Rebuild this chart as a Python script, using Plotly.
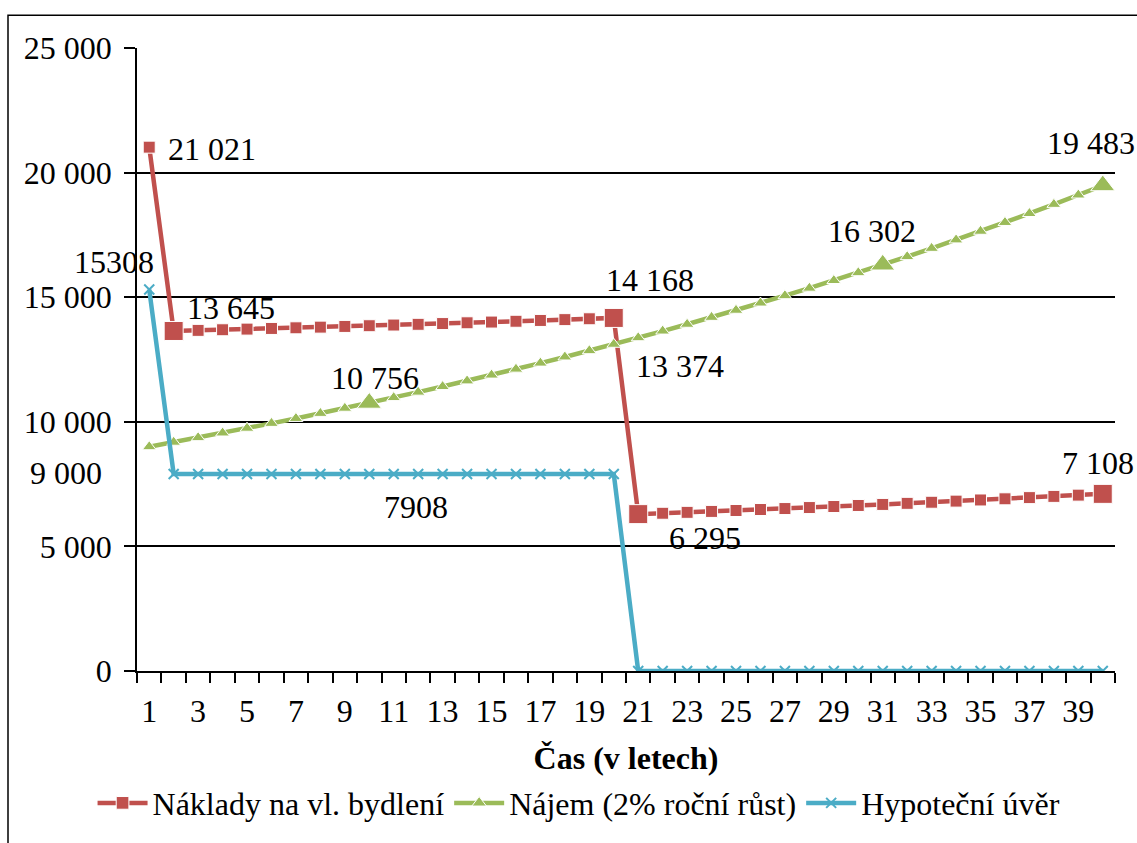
import plotly.graph_objects as go

years = list(range(1, 41))

naklady = [21021, 13645, 13669, 13694, 13720, 13746, 13772, 13799, 13827, 13855,
           13883, 13912, 13942, 13973, 14003, 14035, 14067, 14100, 14134, 14168,
           6295, 6330, 6367, 6404, 6441, 6480, 6519, 6559, 6600, 6642,
           6684, 6728, 6772, 6817, 6863, 6910, 6958, 7007, 7057, 7108]

najem = [9000, 9180, 9364, 9551, 9742, 9937, 10135, 10338, 10545, 10756,
         10971, 11190, 11414, 11642, 11875, 12113, 12355, 12602, 12854, 13111,
         13374, 13641, 13914, 14192, 14476, 14765, 15061, 15362, 15669, 15983,
         16302, 16628, 16961, 17300, 17646, 17999, 18359, 18726, 19101, 19483]

hypoteka = [15308] + [7908] * 19 + [0] * 20

y_ticks = [0, 5000, 10000, 15000, 20000, 25000]
y_ticktext = ["0", "5 000", "10 000", "15 000", "20 000", "25 000"]
x_ticks = list(range(1, 41, 2))

naklady_big = [2, 20, 21, 40]
najem_big = [10, 31, 40]

names = ["Náklady na vl. bydlení", "Nájem (2% roční růst)", "Hypoteční úvěr"]

RED = "#C0504D"
GREEN = "#9BBB59"
BLUE = "#4BACC6"
FONT = "Liberation Serif"
FS = 32


def fmt(v):
    return f"{v:,}".replace(",", " ")


fig = go.Figure()
fig.add_trace(go.Scatter(
    x=years, y=naklady, name=names[0], mode="lines+markers",
    line=dict(color=RED, width=4.5),
    marker=dict(symbol="square", color=RED, opacity=1,
                size=[19 if y in naklady_big else 12 for y in years]),
))
fig.add_trace(go.Scatter(
    x=years, y=najem, name=names[1], mode="lines+markers",
    line=dict(color=GREEN, width=4.5),
    marker=dict(symbol="triangle-up", color=GREEN, opacity=1,
                size=[21 if y in najem_big else 12 for y in years]),
))
fig.add_trace(go.Scatter(
    x=years, y=hypoteka, name=names[2], mode="lines+markers",
    line=dict(color=BLUE, width=4.5),
    marker=dict(symbol="x-thin", color=BLUE, size=10, opacity=1,
                line=dict(color=BLUE, width=2)),
))

# data labels: (series values, year, text, xshift, yshift)
labels = [
    (naklady, 1, fmt(naklady[0]), 63, -2),
    (naklady, 2, fmt(naklady[1]), 57, 23),
    (naklady, 20, fmt(naklady[19]), 36, 38),
    (naklady, 21, fmt(naklady[20]), 67, -24),
    (naklady, 40, fmt(naklady[39]), -5, 31),
    (najem, 1, fmt(najem[0]), -83, -26),
    (najem, 10, fmt(najem[9]), 6, 25),
    (najem, 21, fmt(najem[20]), 42, -28),
    (najem, 31, fmt(najem[30]), -11, 34),
    (najem, 40, fmt(najem[39]), -12, 42),
    (hypoteka, 1, str(hypoteka[0]), -35, 28),
    (hypoteka, 12, str(hypoteka[11]), -2, -33),
]
for series, yr, txt, dx, dy in labels:
    fig.add_annotation(x=yr, y=series[yr - 1], xref="x", yref="y", text=txt,
                       showarrow=False, xshift=dx, yshift=dy,
                       font=dict(family=FONT, size=FS, color="black"))

fig.update_layout(
    width=1137, height=843,
    margin=dict(l=137, r=22, t=48, b=167),
    paper_bgcolor="white", plot_bgcolor="white",
    font=dict(family=FONT, size=FS, color="black"),
    showlegend=True,
    legend=dict(orientation="h", x=0.452, xanchor="center", y=-0.212, yanchor="middle",
                font=dict(family=FONT, size=FS, color="black"),
                itemwidth=50, tracegroupgap=0),
    xaxis=dict(
        range=[0.5, 40.5], tickvals=x_ticks, ticktext=[str(v) for v in x_ticks],
        ticks="", showgrid=False, zeroline=False,
        showline=True, linecolor="black", linewidth=1.5,
        tickfont=dict(family=FONT, size=FS),
        ticklabelstandoff=11,
        minor=dict(tickvals=[v + 0.5 for v in range(0, 41)], ticks="outside",
                   ticklen=10, tickcolor="black", tickwidth=1.5, showgrid=False),
        title=dict(text="<b>Čas (v letech)</b>", font=dict(family=FONT, size=FS), standoff=18),
    ),
    yaxis=dict(
        range=[0, 25000], tickvals=y_ticks, ticktext=y_ticktext,
        ticks="outside", ticklen=11, tickcolor="black", tickwidth=1.5,
        showgrid=True, gridcolor="black", gridwidth=1.5, zeroline=False,
        showline=True, linecolor="black", linewidth=1.5,
        tickfont=dict(family=FONT, size=FS),
        ticklabelstandoff=6,
    ),
    shapes=[dict(type="rect", xref="paper", yref="paper",
                 x0=-129 / 978, x1=1.1, y0=-0.5, y1=1 + 33 / 628,
                 line=dict(color="black", width=1.5), fillcolor="rgba(0,0,0,0)",
                 layer="below")],
)

fig.write_html("out.html")
